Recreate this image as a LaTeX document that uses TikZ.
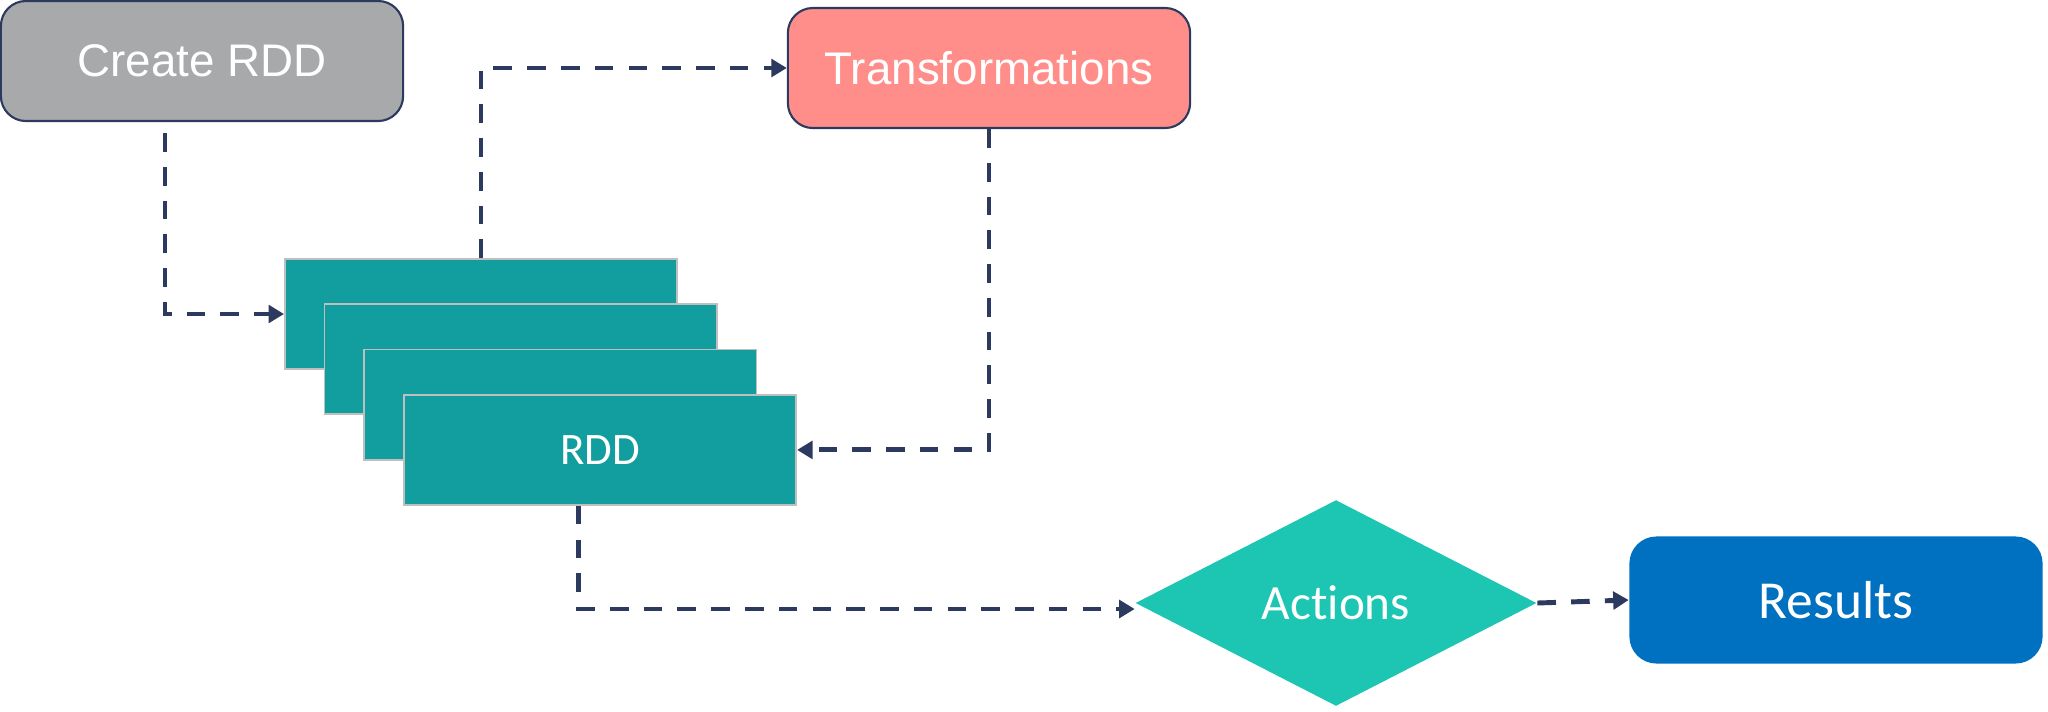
\documentclass[tikz,border=0pt]{standalone}
\usepackage{fontspec}
\setmainfont[Ligatures={NoCommon,NoContextual}]{Carlito}
\newfontfamily\arialfont{Liberation Sans}
\usepackage{xcolor}
\usepackage{tikz}
\usetikzlibrary{positioning}
\usetikzlibrary{arrows.meta,shapes}
\usetikzlibrary{calc}
\definecolor{navy}{HTML}{2D3A5F}
\definecolor{greybox}{HTML}{A7A9AA}
\definecolor{salmon}{HTML}{FF8E8B}
\definecolor{rddteal}{HTML}{129E9F}
\definecolor{actgreen}{HTML}{1DC6B2}
\definecolor{resblue}{HTML}{0070C0}
\tikzstyle{roundbox}=[rectangle,rounded corners=0.25cm,draw=navy,line width=0.6pt,minimum width=4.02cm,minimum height=1.2cm,inner sep=0pt,text=white,font=\arialfont\fontsize{13}{15}\selectfont]
\tikzstyle{rddbox}=[rectangle,fill=rddteal,draw=black!25,line width=0.5pt,minimum width=3.92cm,minimum height=1.1cm,inner sep=0pt,text=white,font=\fontsize{12.8}{15}\selectfont]
\tikzstyle{edge} = [draw,navy,line width=1.4pt,dash pattern=on 5.3pt off 4.3pt,-{Triangle[length=4.4pt,width=5pt]}]
\tikzset{act/.style={diamond,fill=actgreen,minimum width=4.01cm,minimum height=2.06cm,inner sep=0pt,text=white,font=\fontsize{14}{16}\selectfont}}
\tikzset{res/.style={rectangle,rounded corners=0.27cm,fill=resblue,minimum width=4.13cm,minimum height=1.27cm,inner sep=0pt,text=white,font=\fontsize{15.2}{17}\selectfont}}

\begin{document}
\begin{tikzpicture}[x=0.01cm,y=-0.01cm]

 \useasboundingbox (0,0) rectangle (2048,711);

 %Create and Transformations
 \node[roundbox,fill=greybox] (create) at (202,61) {Create RDD};
 \node[roundbox,fill=salmon] (trans) at (989,68) {Transformations};

 %RDD stack
 \def\dx{39.7}
 \def\dy{45.3}
   \foreach \k/\name/\txt in {0/rdd1/{}, 1/rdd2/{}, 2/rdd3/{}, 3/rdd4/RDD}
          \node[rddbox] (\name) at (481+\k*\dx, 314+\k*\dy) {\txt};

 %Actions and Results
 \node[act] (actions) at (1336,603) {Actions};
 \node[res] (results) at (1836,600) {Results};

 %edges
 \path[edge] ([shift={(-37,11)}]create.south) |- (rdd1.west);

  \foreach \source/ \dest in {rdd1.north/trans.west, trans.south/rdd4.east}
         \path[edge] (\source) |- (\dest);

 \path[edge] ([shift={(-22,0)}]rdd4.south) |- ([shift={(0,6)}]actions.west);
 \path[edge] (actions.east) -- (results.west);

\end{tikzpicture}
\end{document}
